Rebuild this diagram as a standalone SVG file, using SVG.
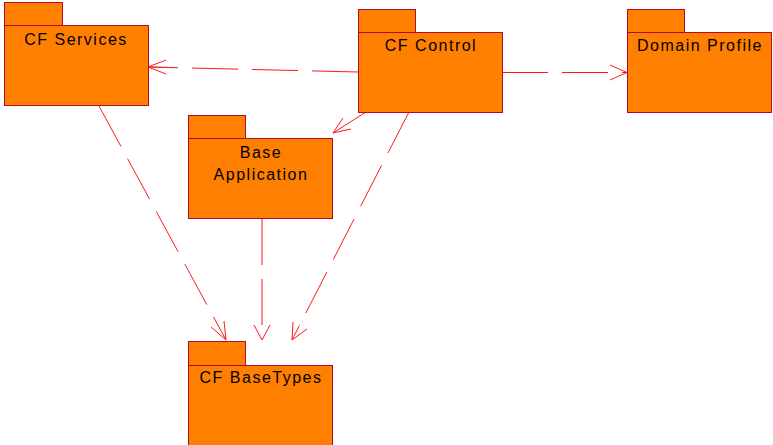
<svg xmlns="http://www.w3.org/2000/svg" width="773" height="445" viewBox="0 0 773 445">
<style>
.pk{fill:#ff8000;stroke:#b00a30;stroke-width:1}
.lbl{font-family:"Liberation Sans",Arial,sans-serif;font-size:16px;letter-spacing:1.5px;fill:#000;text-anchor:middle}
.dep{fill:none;stroke:#ff1a1a;stroke-width:1;stroke-dasharray:46 14}
.ah{fill:none;stroke:#ff1a1a;stroke-width:1}
</style>
<rect width="773" height="445" fill="#fff"/>
<g id="connectors">
  <path class="dep" d="M358,72 L148,67"/>
  <path class="ah" d="M166,60 L148,67 L166,74 M148,67 L173,67.6"/>
  <path class="dep" d="M502,72.5 L627,72.5"/>
  <path class="ah" d="M610,65 L627,72.5 L610,80"/>
  <path class="dep" d="M366,112 L333,133"/>
  <path class="ah" d="M343,118 L333,133 L351,129"/>
  <path class="dep" d="M99,106 L226,340"/>
  <path class="ah" d="M211,327 L226,340 L224,321"/>
  <path class="dep" d="M262,219 L262,340"/>
  <path class="ah" d="M254,325 L262,340 L270,325"/>
  <path class="dep" d="M409,112 L292,340"/>
  <path class="ah" d="M293,322 L292,340 L307,329"/>
</g>
<g id="cf-services">
  <rect class="pk" x="4.5" y="2.5" width="58" height="23"/>
  <rect class="pk" x="4.5" y="25.5" width="144" height="80"/>
  <text class="lbl" x="76" y="44.5">CF Services</text>
</g>
<g id="cf-control">
  <rect class="pk" x="358.5" y="9.5" width="57" height="23"/>
  <rect class="pk" x="358.5" y="32.5" width="144" height="80"/>
  <text class="lbl" x="431" y="51">CF Control</text>
</g>
<g id="domain-profile">
  <rect class="pk" x="627.5" y="9.5" width="57" height="23"/>
  <rect class="pk" x="627.5" y="32.5" width="144" height="80"/>
  <text class="lbl" x="700" y="51">Domain Profile</text>
</g>
<g id="base-application">
  <rect class="pk" x="188.5" y="115.5" width="57" height="23"/>
  <rect class="pk" x="188.5" y="138.5" width="144" height="80"/>
  <text class="lbl" x="261" y="158">Base</text>
  <text class="lbl" x="261" y="180">Application</text>
</g>
<g id="cf-basetypes">
  <rect class="pk" x="188.5" y="341.5" width="57" height="24"/>
  <rect class="pk" x="188.5" y="365.5" width="144" height="80"/>
  <text class="lbl" x="261" y="383">CF BaseTypes</text>
</g>
</svg>
